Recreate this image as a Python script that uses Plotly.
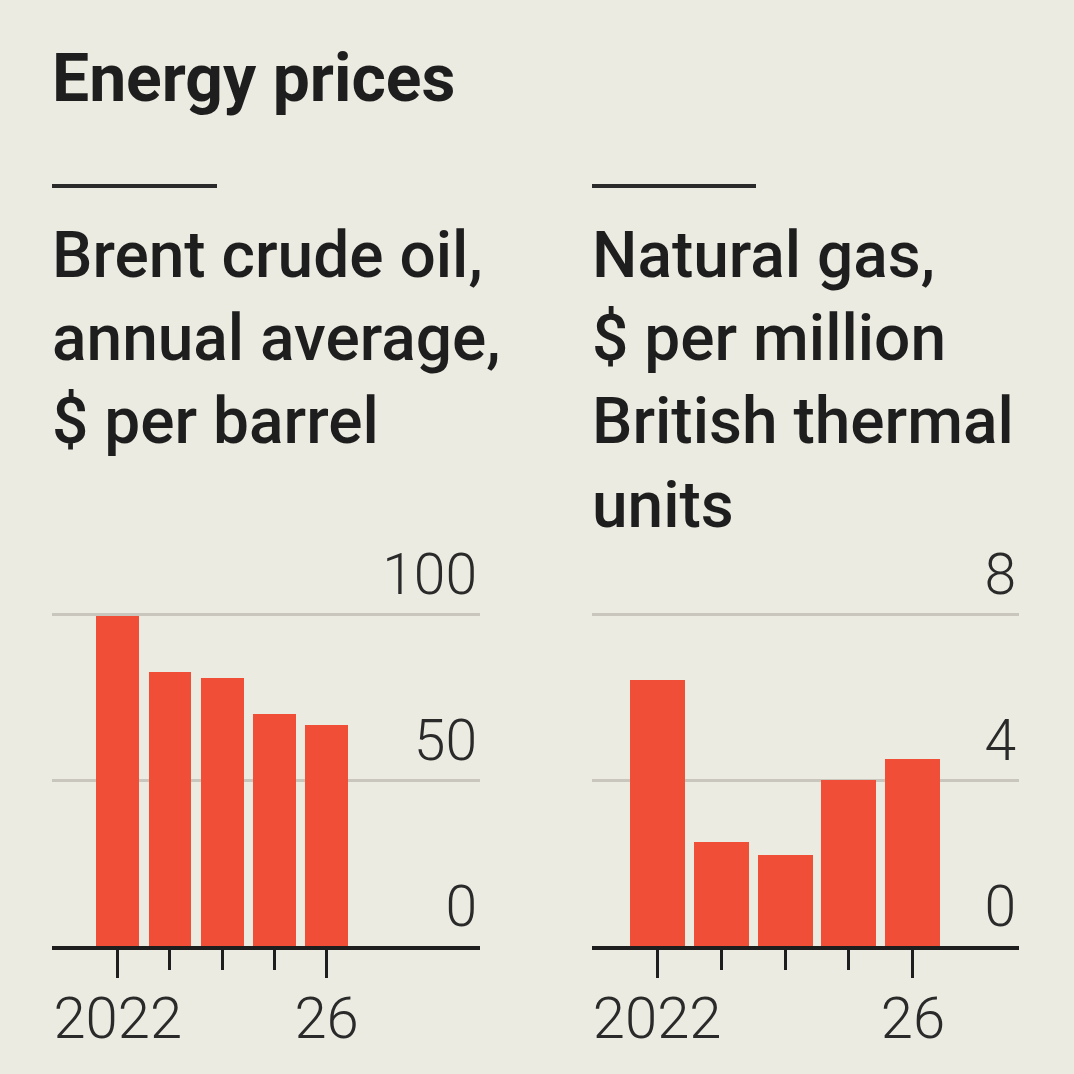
import plotly.graph_objects as go

years = [2022, 2023, 2024, 2025, 2026]
brent = [99.5, 82.5, 80.6, 70.0, 66.7]
gas = [6.4, 2.5, 2.2, 4.0, 4.5]

brent_ticks = [0, 50, 100]
gas_ticks = [0, 4, 8]
major_years = [2022, 2026]
major_labels = ["2022", "26"]
minor_years = [2023, 2024, 2025]

title = "Energy prices"
sub_left = "Brent crude oil,<br>annual average,<br>$ per barrel"
sub_right = "Natural gas,<br>$ per million<br>British thermal<br>units"

BG = "#ecebe1"
BAR = "#f04e37"
INK = "#1e1e1e"
GRID = "#c9c7bd"
FONT = "Roboto"

fig = go.Figure()
fig.add_trace(go.Bar(x=years, y=brent, marker=dict(color=BAR, line=dict(width=0)),
                     width=0.82, xaxis="x", yaxis="y", showlegend=False))
fig.add_trace(go.Bar(x=years, y=gas, marker=dict(color=BAR, line=dict(width=0)),
                     width=0.86, xaxis="x2", yaxis="y2", showlegend=False))

def xax(domain, rng, anchor):
    return dict(domain=domain, range=rng, anchor=anchor,
                tickmode="array", tickvals=major_years, ticktext=major_labels,
                ticks="outside", ticklen=28, tickwidth=3, tickcolor=INK,
                minor=dict(tickmode="array", tickvals=minor_years, ticks="outside",
                           ticklen=20, tickwidth=3, tickcolor=INK, showgrid=False),
                showline=True, linecolor=INK, linewidth=4, showgrid=False, zeroline=False,
                ticklabelstandoff=-10,
                tickfont=dict(family=FONT, size=58, color="#2a2a2a", weight=300),
                fixedrange=True)

def yax(domain, rng, ticks, anchor):
    return dict(domain=domain, range=rng, anchor=anchor, side="right",
                tickmode="array", tickvals=ticks,
                ticklabelposition="inside top", ticks="",
                showgrid=True, gridcolor=GRID, gridwidth=2.5,
                zeroline=False, showline=False,
                tickfont=dict(family=FONT, size=57, color="#2a2a2a", weight=300),
                fixedrange=True)

# plot area: y=0 at 946px, top gridline at 614px, area extended up to 516px
top_px = 516
ydom = [128/1074, (1074 - top_px)/1074]
scale = (946 - top_px) / 332
fig.update_layout(
    width=1074, height=1074,
    margin=dict(l=0, r=0, t=0, b=0),
    paper_bgcolor=BG, plot_bgcolor=BG,
    bargap=0,
    xaxis=xax([52/1074, 480/1074], [2020.74, 2028.94], "y"),
    yaxis=yax(ydom, [0, 100 * scale], brent_ticks, "x"),
    xaxis2=xax([592/1074, 1019/1074], [2020.98, 2027.66], "y2"),
    yaxis2=yax(ydom, [0, 8 * scale], gas_ticks, "x2"),
    font=dict(family=FONT, color=INK),
    shapes=[
        dict(type="line", xref="paper", yref="paper", x0=52/1074, x1=217/1074,
             y0=(1074-186)/1074, y1=(1074-186)/1074, line=dict(color="#2a2a2a", width=4)),
        dict(type="line", xref="paper", yref="paper", x0=592/1074, x1=756/1074,
             y0=(1074-186)/1074, y1=(1074-186)/1074, line=dict(color="#2a2a2a", width=4)),
    ],
    annotations=[
        dict(text=title, xref="paper", yref="paper", x=50/1074, y=(1074-38)/1074,
             xanchor="left", yanchor="top", showarrow=False, align="left",
             font=dict(family=FONT, size=66, color=INK, weight=700)),
        dict(text=sub_left, xref="paper", yref="paper", x=50/1074, y=(1074-216)/1074,
             xanchor="left", yanchor="top", showarrow=False, align="left",
             font=dict(family=FONT, size=64, color=INK, weight=500)),
        dict(text=sub_right, xref="paper", yref="paper", x=590/1074, y=(1074-216)/1074,
             xanchor="left", yanchor="top", showarrow=False, align="left",
             font=dict(family=FONT, size=64, color=INK, weight=500)),
    ],
)

fig.write_html("out.html", config={"displayModeBar": False},
               post_script="document.body.style.margin='0';document.body.style.overflow='hidden';")
